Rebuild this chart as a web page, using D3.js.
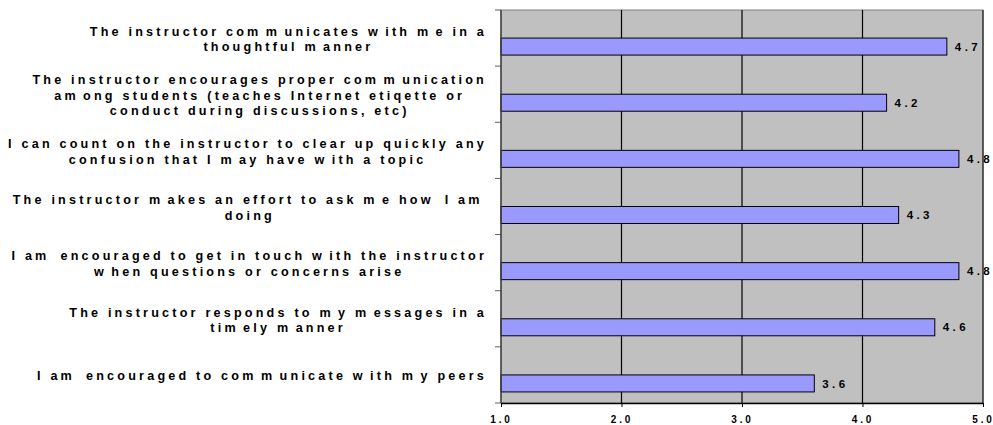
<!DOCTYPE html>
<html>
<head>
<meta charset="utf-8">
<script src="https://cdn.jsdelivr.net/npm/d3@7"></script>
<style>
  body { margin: 0; background: #fff; }
  text { font-family: "Liberation Sans", Arial, sans-serif; font-weight: bold; fill: #000; }
</style>
</head>
<body>
<script>
var canvasWidth = 993;
var canvasHeight = 425;
var margin = { top: 10, right: 10, bottom: 22, left: 501 };

// questions (split into the lines shown in the chart)
var questions = [
    ["The instructor communicates with me in a", "thoughtful manner"],
    ["The instructor encourages proper communication", "among students (teaches Internet etiqette or", "conduct during discussions, etc)"],
    ["I can count on the instructor to clear up quickly any", "confusion that I may have with a topic"],
    ["The instructor makes an effort to ask me how I am", "doing"],
    ["I am encouraged to get in touch with the instructor", "when questions or concerns arise"],
    ["The instructor responds to my messages in a", "timely manner"],
    ["I am encouraged to communicate with my peers"]
];
var scores = [4.7, 4.2, 4.8, 4.3, 4.8, 4.6, 3.6];
var xTicks = [1, 2, 3, 4, 5];

var width = canvasWidth - margin.left - margin.right;   // 482
var height = canvasHeight - margin.top - margin.bottom; // 393

var svg = d3.select("body").append("svg")
    .attr("width", canvasWidth)
    .attr("height", canvasHeight);

var xScale = d3.scaleLinear().domain([1, 5]).range([0, width]);
var yScale = d3.scaleBand().domain(d3.range(questions.length)).range([0, height]);

var g = svg.append("g")
    .attr("transform", "translate(" + margin.left + ", " + margin.top + ")");

// plot background
g.append("rect")
    .attr("width", width)
    .attr("height", height)
    .attr("fill", "#c0c0c0")
    .attr("stroke", "#808080")
    .attr("stroke-width", 1);

// vertical gridlines
g.selectAll(".grid").data(xTicks.slice(1, -1))
    .enter().append("line")
    .attr("x1", d => xScale(d)).attr("x2", d => xScale(d))
    .attr("y1", 0).attr("y2", height)
    .attr("stroke", "#000")
    .attr("stroke-width", 1.2);

// right border
g.append("line")
    .attr("x1", width).attr("x2", width)
    .attr("y1", 0).attr("y2", height)
    .attr("stroke", "#000");

// bars (lower half of each band, like the Excel original)
var barH = 17;
g.selectAll(".bar").data(scores)
    .enter().append("rect")
    .attr("x", 0)
    .attr("y", (d, i) => yScale(i) + yScale.bandwidth() / 2)
    .attr("width", d => xScale(d))
    .attr("height", barH)
    .attr("fill", "#9999ff")
    .attr("stroke", "#000")
    .attr("stroke-width", 1);

// value labels
g.selectAll(".val").data(scores)
    .enter().append("text")
    .attr("x", d => xScale(d) + 8)
    .attr("y", (d, i) => yScale(i) + yScale.bandwidth() / 2 + barH / 2)
    .attr("dy", "0.36em")
    .attr("font-size", "11.5px")
    .attr("letter-spacing", "3.4px")
    .text(d => d.toFixed(1));

// x axis
var xAxis = g.append("g")
    .attr("transform", "translate(0, " + height + ")")
    .call(d3.axisBottom(xScale).tickValues(xTicks).tickFormat(d3.format(".1f")).tickSizeInner(4).tickSizeOuter(0));
xAxis.select(".domain").attr("stroke", "#000").attr("stroke-width", 1.5);
xAxis.selectAll(".tick line").attr("stroke", "#000");
xAxis.selectAll(".tick text")
    .attr("y", 13)
    .attr("font-family", "Liberation Sans, Arial, sans-serif")
    .attr("font-weight", "bold")
    .attr("font-size", "10px")
    .attr("letter-spacing", "2.8px");

// y axis (ticks between categories)
var yEdges = d3.range(questions.length + 1).map(i => i * yScale.step());
g.selectAll(".ytick").data(yEdges)
    .enter().append("line")
    .attr("x1", -6).attr("x2", 0)
    .attr("y1", d => d).attr("y2", d => d)
    .attr("stroke", "#606060");
g.append("line")
    .attr("x1", 0).attr("x2", 0)
    .attr("y1", 0).attr("y2", height)
    .attr("stroke", "#404040")
    .attr("stroke-width", 1.5);

// category labels: each block centred on itself, right edge near the axis
// (the original rendering leaves a wider gap after "m" and "w")
var lineH = 15.5;
var labelRight = 487;
var spacing = 3.2, wideSpacing = 7.5;

var labels = svg.append("g").selectAll("text").data(questions)
    .enter().append("text")
    .attr("text-anchor", "middle")
    .attr("font-size", "12.6px")
    .attr("letter-spacing", spacing + "px");

labels.each(function(lines, i) {
    var cy = margin.top + yScale(i) + yScale.bandwidth() / 2 + 1;
    var y0 = cy - (lines.length - 1) * lineH / 2;
    var spans = d3.select(this).selectAll("tspan.line").data(lines)
        .enter().append("tspan")
        .attr("class", "line")
        .attr("y", (d, j) => y0 + j * lineH)
        .attr("dy", "0.36em");
    spans.each(function(line) {
        var runs = line.split(/([mw])/).filter(s => s.length);
        d3.select(this).selectAll("tspan").data(runs)
            .enter().append("tspan")
            .attr("letter-spacing", d => (d === "m" || d === "w") ? wideSpacing + "px" : null)
            .text(d => d);
    });
    var w = d3.max(spans.nodes(), n => n.getComputedTextLength());
    spans.attr("x", labelRight - w / 2);
});
</script>
</body>
</html>
